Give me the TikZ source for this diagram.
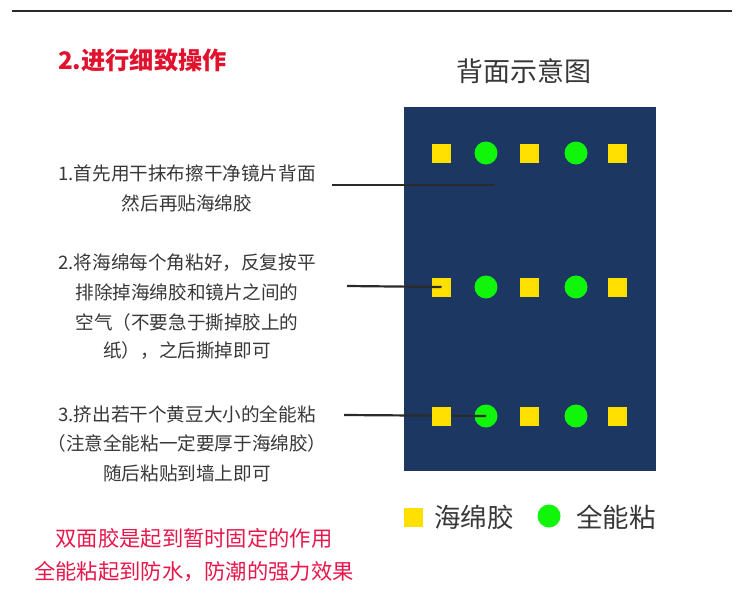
\documentclass[tikz,border=0pt]{standalone}
\usepackage{fontspec}
\setmainfont{Noto Sans CJK SC}
\definecolor{panelblue}{HTML}{1C3762}
\definecolor{padyellow}{HTML}{FFE000}
\definecolor{gluegreen}{HTML}{11F50B}
\definecolor{titlered}{HTML}{E0122E}
\definecolor{notered}{HTML}{E8174B}
\definecolor{txtgray}{HTML}{383838}
\definecolor{linegray}{HTML}{2A2A2A}
\tikzset{
  body/.style={inner sep=0pt, text=txtgray, font=\fontsize{18.6}{20}\selectfont},
  note/.style={inner sep=0pt, text=notered, font=\fontsize{21.3}{24}\selectfont},
  legend/.style={inner sep=0pt, text=txtgray, font=\fontsize{26.5}{30}\selectfont},
  pad/.style={fill=padyellow, minimum size=19pt, inner sep=0pt},
  glue/.style={circle, fill=gluegreen, minimum size=23pt, inner sep=0pt},
  leader/.style={draw=linegray, line width=2.2pt},
}
\begin{document}
\begin{tikzpicture}[x=1pt,y=-1pt]
\useasboundingbox (0,0) rectangle (750,606);
\fill[white] (0,0) rectangle (750,606);
% top rule
\coordinate (ruleL) at (12,11);
\coordinate (ruleR) at (732,11);
\draw[line width=2pt, draw=linegray] (ruleL) -- (ruleR);
% title
\node[inner sep=0pt, anchor=west, text=titlered, font=\fontsize{24.2}{28}\selectfont\bfseries] (title) at (58,60) {2.进行细致操作};
\node[inner sep=0pt, text=txtgray, font=\fontsize{27}{30}\selectfont] (backtitle) at (524,71) {背面示意图};
% panel
\node[fill=panelblue, minimum width=252pt, minimum height=364pt, inner sep=0pt, anchor=north west] (panel) at (404,107) {};
% glue dots
\foreach \r/\y in {1/153,2/287,3/416}{
  \node[glue] (g\r a) at (486,\y) {};
  \node[glue] (g\r b) at (576,\y) {};
}
% leader lines (under pads except line 2)
\coordinate (l1s) at (332,185);
\coordinate (l1e) at (494,185);
\draw[leader] (l1s) -- (l1e);
\coordinate (l3s) at (344,415);
\draw[leader] (l3s) -- (g3a.center);
% pads
\foreach \r/\y in {1/153,2/287,3/416}{
  \node[pad] (p\r a) at (441.5,\y) {};
  \node[pad] (p\r b) at (529.5,\y) {};
  \node[pad] (p\r c) at (617.5,\y) {};
}
\coordinate (l2s) at (347,286);
\draw[leader] (l2s) -- (p2a.center);
% text blocks
\node[body] (t11) at (187,173) {1.首先用干抹布擦干净镜片背面};
\node[body] (t12) at (187,203) {然后再贴海绵胶};
\node[body] (t21) at (187,263) {2.将海绵每个角粘好，反复按平};
\node[body] (t22) at (187,292) {排除掉海绵胶和镜片之间的};
\node[body] (t23) at (187,322) {空气（不要急于撕掉胶上的};
\node[body] (t24) at (187,351) {纸），之后撕掉即可};
\node[body] (t31) at (187,414) {3.挤出若干个黄豆大小的全能粘};
\node[body] (t32) at (187,443) {（注意全能粘一定要厚于海绵胶）};
\node[body] (t33) at (187,473) {随后粘贴到墙上即可};
% notes
\node[note] (n1) at (194,538) {双面胶是起到暂时固定的作用};
\node[note] (n2) at (194,572) {全能粘起到防水，防潮的强力效果};
% legend
\node[pad] (legpad) at (413.5,517) {};
\node[legend, anchor=west] (legpadtxt) at (434,517) {海绵胶};
\node[glue] (legglue) at (549,516) {};
\node[legend, anchor=west] (legluetxt) at (576,517) {全能粘};
\end{tikzpicture}
\end{document}
